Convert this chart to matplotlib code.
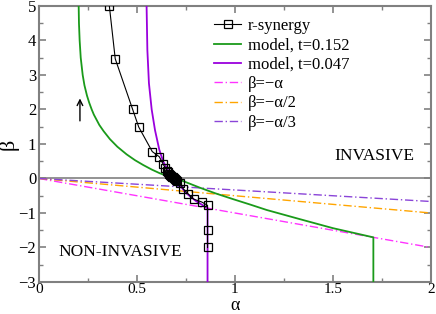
import matplotlib
matplotlib.use("Agg")
import matplotlib.pyplot as plt
from matplotlib.ticker import MultipleLocator

plt.rcParams['font.family'] = ['Liberation Serif', 'DejaVu Serif']

# r-synergy points
alpha_rs = [0.359, 0.389, 0.478, 0.509, 0.578, 0.614, 0.634, 0.645, 0.655, 0.66,
            0.665, 0.67, 0.675, 0.68, 0.685, 0.69, 0.695, 0.70, 0.705, 0.72,
            0.736, 0.762, 0.79, 0.83, 0.86, 0.86, 0.86]
beta_rs = [5.0, 3.47, 2.0, 1.49, 0.78, 0.63, 0.41, 0.30, 0.22, 0.18,
           0.14, 0.11, 0.08, 0.05, 0.03, 0.01, -0.01, -0.03, -0.06, -0.14,
           -0.30, -0.45, -0.60, -0.68, -0.78, -1.5, -2.0]

# model curves
alpha_m1 = [0.2025, 0.204, 0.2075, 0.213, 0.223, 0.232, 0.245, 0.256, 0.269, 0.28,
            0.294, 0.308, 0.33, 0.362, 0.40, 0.447, 0.49, 0.532, 0.575, 0.617,
            0.66, 0.71, 0.76, 0.821, 0.90, 0.991, 1.08, 1.162, 1.332, 1.50,
            1.706, 1.706]
beta_m1 = [5.0, 4.5, 4.0, 3.5, 3.0, 2.7, 2.4, 2.2, 2.0, 1.85,
           1.7, 1.55, 1.37, 1.14, 0.92, 0.70, 0.53, 0.39, 0.26, 0.15,
           0.06, -0.02, -0.13, -0.267, -0.43, -0.60, -0.76, -0.913, -1.18, -1.44,
           -1.706, -3.0]

alpha_m2 = [0.549, 0.553, 0.561, 0.575, 0.592, 0.614, 0.634, 0.66, 0.69, 0.75, 0.80, 0.86, 0.86]
beta_m2 = [5.0, 3.72, 2.76, 2.0, 1.4, 0.83, 0.49, 0.22, 0.0, -0.42, -0.65, -0.86, -3.0]

alpha_ref = [0.0, 2.0]
beta_a1 = [0.0, -2.0]
beta_a2 = [0.0, -1.0]
beta_a3 = [0.0, -2.0 / 3]

fig = plt.figure(figsize=(4.36, 3.14), dpi=100)
ax = fig.add_axes([0.0894, 0.1019, 0.8991, 0.8791])

ax.axhline(0, color='#808080', lw=1.2, zorder=1)

ax.plot(alpha_rs, beta_rs, color='black', lw=0.8, marker='s', ms=6,
        mfc='none', mec='black', mew=0.9, label='r-synergy', zorder=4)
ax.plot(alpha_m1, beta_m1, color='#1a9a1a', lw=1.3, label='model, t=0.152', zorder=3)
ax.plot(alpha_m2, beta_m2, color='#9a00dd', lw=1.3, label='model, t=0.047', zorder=3)
ax.plot(alpha_ref, beta_a1, color='#ff33ff', lw=1.0, ls=(0, (6, 2, 1, 2)), label='β=−α', zorder=2)
ax.plot(alpha_ref, beta_a2, color='#ffa500', lw=1.0, ls=(0, (6, 2, 1, 2)), label='β=−α/2', zorder=2)
ax.plot(alpha_ref, beta_a3, color='#8a45d8', lw=1.0, ls=(0, (6, 2, 1, 2)), label='β=−α/3', zorder=2)

ax.annotate('', xy=(0.209, 2.32), xytext=(0.209, 1.67),
            arrowprops=dict(arrowstyle='->', color='black', lw=1.0,
                            shrinkA=0, shrinkB=0))

ax.text(1.71, 0.65, 'INVASIVE', fontsize=12.5, ha='center', va='center')
ax.text(0.416, -2.12, 'NON-INVASIVE', fontsize=12.5, ha='center', va='center')

ax.set_xlim(0, 2)
ax.set_ylim(-3, 5)
ax.xaxis.set_major_locator(MultipleLocator(0.5))
ax.xaxis.set_minor_locator(MultipleLocator(0.25))
ax.yaxis.set_major_locator(MultipleLocator(1))
ax.yaxis.set_minor_locator(MultipleLocator(0.5))
ax.xaxis.set_major_formatter(plt.FuncFormatter(lambda v, p: '%g' % v))
ax.tick_params(which='both', direction='in', top=True, right=True, color='#808080',
               labelsize=12, pad=2)
ax.tick_params(axis='x', labelsize=11, pad=0.5)
ax.tick_params(which='major', length=5, width=1.2)
ax.tick_params(which='minor', length=3, width=1.0)
for s in ax.spines.values():
    s.set_color('#808080')
    s.set_linewidth(1.5)

# x label placed at the very bottom of the figure, like the reference
fig.text(0.5394, 0.0, 'α', fontsize=13, ha='center', va='bottom')
ax.set_ylabel('β', fontsize=16, labelpad=0)

ax.legend(loc='upper left', bbox_to_anchor=(0.43, 0.98), frameon=False, fontsize=12,
          handlelength=1.6, handletextpad=0.4, labelspacing=0.2, borderaxespad=0)

fig.savefig('out.png', dpi=100)
